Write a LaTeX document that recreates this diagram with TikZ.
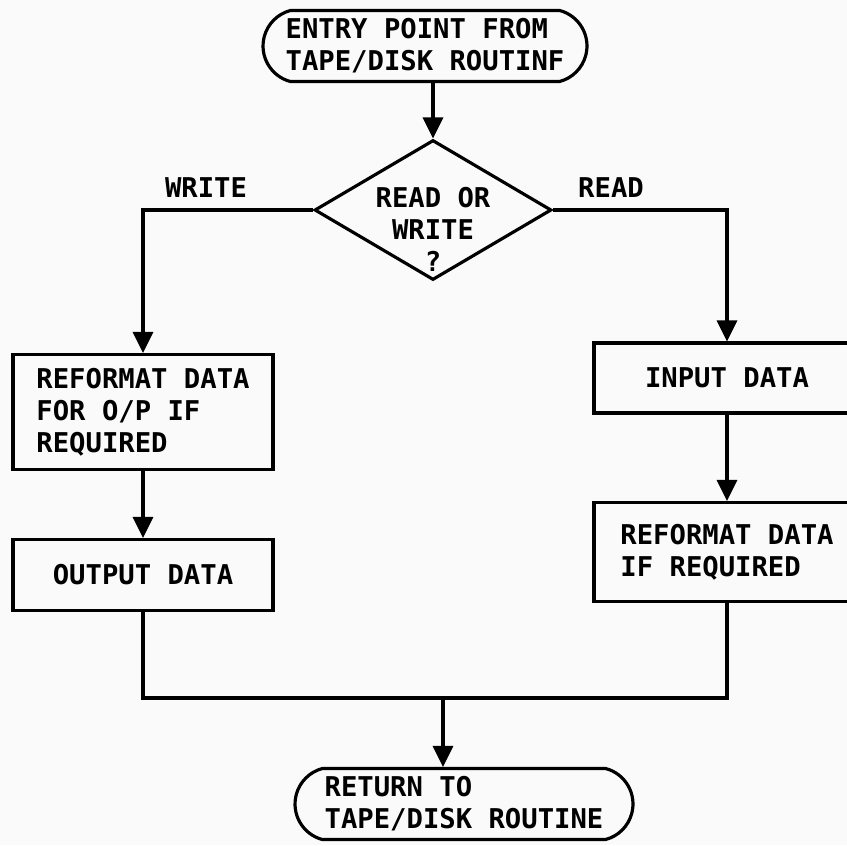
\documentclass[tikz,border=0pt]{standalone}
\usepackage{fontspec}
\newfontfamily\chartfont{DejaVu Sans Mono}
\usetikzlibrary{arrows.meta,shapes.geometric,shapes.misc}
\begin{document}
\begin{tikzpicture}[x=0.02cm,y=-0.02cm,
    every node/.style={font=\chartfont\bfseries\fontsize{15.5}{18.2}\selectfont},
    term/.style={draw,line width=1.8pt,rounded rectangle,rounded rectangle arc length=150,minimum height=1.42cm,align=left,inner sep=0pt},
    box/.style={draw,line width=1.8pt,rectangle,align=left,inner sep=0pt},
    arr/.style={line width=1.8pt,-{Triangle[width=0.4cm,length=0.42cm]}}]
    \useasboundingbox (0,0) rectangle (847,845);
    \fill[gray!4] (0,0) rectangle (847,845);
    \clip (0,0) rectangle (847,845);

    \node[term,minimum width=6.48cm] (entry) at (425,46) {ENTRY POINT FROM\\TAPE/DISK ROUTINF};
    \node[draw,line width=1.8pt,diamond,minimum width=4.74cm,minimum height=2.8cm,inner sep=0pt] (dec) at (433,210) {};
    \node[align=center] (dectext) at (433,229) {READ OR\\WRITE\\?};
    \node (writelbl) at (206,188) {WRITE};
    \node (readlbl) at (611,188) {READ};

    \node[box,minimum width=5.2cm,minimum height=2.3cm] (refout) at (143,412) {REFORMAT DATA\\FOR O/P IF\\REQUIRED};
    \node[box,minimum width=5.2cm,minimum height=1.42cm] (outdata) at (143,575) {OUTPUT DATA};
    \node[box,minimum width=5.32cm,minimum height=1.4cm] (indata) at (727,378) {INPUT DATA};
    \node[box,minimum width=5.32cm,minimum height=1.98cm] (refin) at (727,552) {REFORMAT DATA\\IF REQUIRED};
    \node[term,minimum width=6.76cm] (retn) at (464,804) {RETURN TO\\TAPE/DISK ROUTINE};

    \draw[arr] (dec.north |- entry.south) -- (dec.north);
    \draw[arr] (dec.west) -| (refout.north);
    \draw[arr] (dec.east) -| (indata.north);
    \draw[arr] (refout.south) -- (outdata.north);
    \draw[arr] (indata.south) -- (refin.north);
    \coordinate (join) at (443,698);
    \draw[line width=1.8pt] (outdata.south) |- (join) -| (refin.south);
    \draw[arr] (join) -- (join |- retn.north);
\end{tikzpicture}
\end{document}
